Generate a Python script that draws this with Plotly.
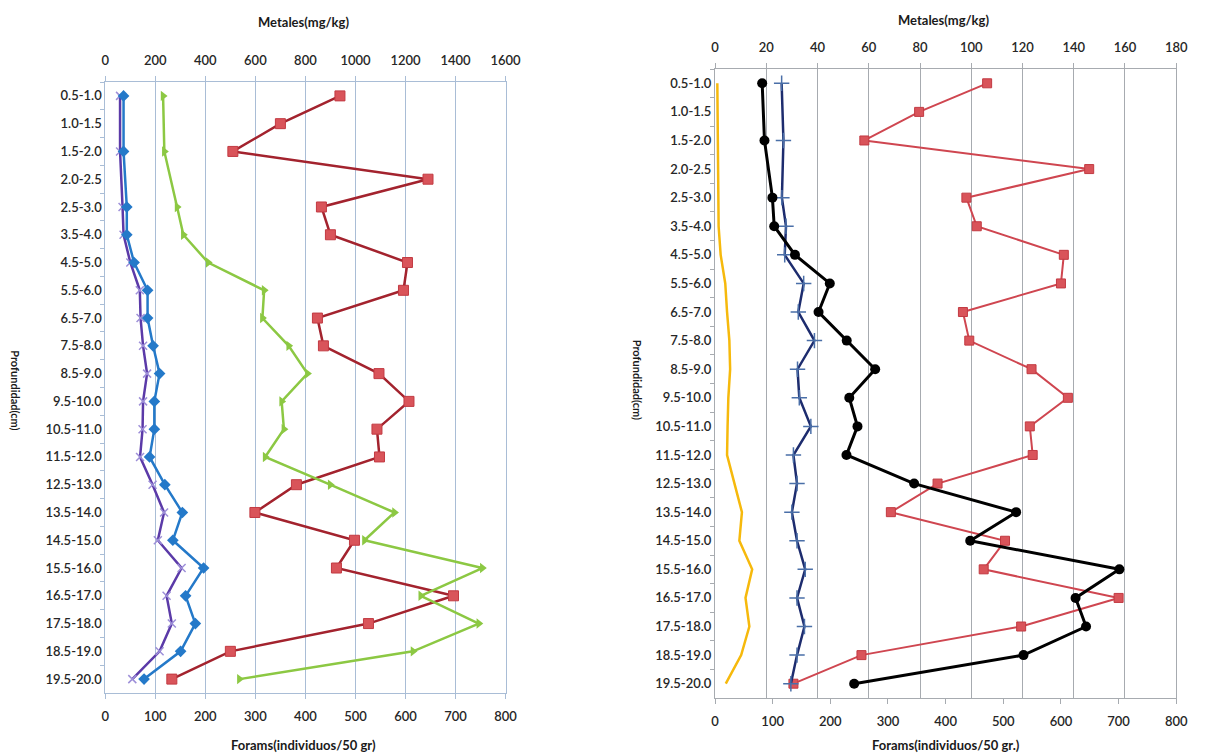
import plotly.graph_objects as go

categories = ["0.5-1.0", "1.0-1.5", "1.5-2.0", "2.0-2.5", "2.5-3.0", "3.5-4.0", "4.5-5.0",
              "5.5-6.0", "6.5-7.0", "7.5-8.0", "8.5-9.0", "9.5-10.0", "10.5-11.0", "11.5-12.0",
              "12.5-13.0", "13.5-14.0", "14.5-15.0", "15.5-16.0", "16.5-17.0", "17.5-18.0",
              "18.5-19.0", "19.5-20.0"]

# Left panel
left_forams = [469, 350, 255, 645, 432, 450, 604, 596, 424, 436, 547, 607, 543, 548,
               382, 299, 498, 462, 696, 526, 250, 133]
left_metal_blue = [73, None, 73, None, 86, 86, 115, 169, 169, 191, 217, 196, 196, 177,
                   238, 308, 270, 393, 321, 360, 301, 155]
left_metal_purple = [59, None, 59, None, 69, 73, 100, 138, 141, 151, 167, 151, 149, 139,
                     189, 235, 210, 305, 245, 266, 217, 108]
left_metal_green = [231, None, 236, None, 287, 312, 411, 635, 628, 733, 808, 705, 714, 639,
                    899, 1156, 1036, 1507, 1261, 1493, 1230, 536]

# Right panel
right_forams = [472, 354, 259, 649, 436, 454, 605, 600, 430, 441, 549, 612, 546, 551,
                386, 305, 503, 466, 700, 531, 254, 136]
right_metal_black = [18.4, None, 19.3, None, 22.4, 23.1, 31.2, 44.8, 40.4, 51.4, 62.5, 52.4,
                     55.6, 51.3, 77.7, 117.5, 99.6, 157.8, 140.7, 144.8, 120.4, 54.3]
right_metal_navy = [26.0, None, 26.7, None, 26.1, 27.7, 27.2, 34.6, 32.5, 38.8, 32.2, 32.9,
                    37.4, 30.6, 32.0, 30.0, 32.0, 35.2, 32.0, 34.9, 32.0, 29.6]
right_metal_orange = [0.9, None, 1.1, None, 1.3, 1.4, 2.2, 4.0, 4.7, 5.6, 5.9, 5.2,
                      4.9, 4.7, 7.6, 10.5, 9.5, 14.5, 11.9, 13.4, 10.2, 4.2]

forams_ticks = [0, 100, 200, 300, 400, 500, 600, 700, 800]
left_metal_ticks = [0, 200, 400, 600, 800, 1000, 1200, 1400, 1600]
right_metal_ticks = [0, 20, 40, 60, 80, 100, 120, 140, 160, 180]

W, H = 1207, 756
FONT = "Lato"
TXT = "#262626"
GRID_L = "#a9bdd6"
GRID_R = "#a7abb0"

fig = go.Figure()

# left traces
fig.add_trace(go.Scatter(x=left_metal_green, y=categories, xaxis="x2", yaxis="y",
                         mode="lines+markers", connectgaps=True,
                         line=dict(color="#8cc843", width=2.5),
                         marker=dict(symbol="triangle-right", size=9, color="#8cc843")))
fig.add_trace(go.Scatter(x=left_metal_purple, y=categories, xaxis="x2", yaxis="y",
                         mode="lines+markers", connectgaps=True,
                         line=dict(color="#5b3aa8", width=2.5),
                         marker=dict(symbol="x-thin", size=8, color="#9d8fd8",
                                     line=dict(color="#9d8fd8", width=1.5))))
fig.add_trace(go.Scatter(x=left_metal_blue, y=categories, xaxis="x2", yaxis="y",
                         mode="lines+markers", connectgaps=True,
                         line=dict(color="#2479c9", width=2.5),
                         marker=dict(symbol="diamond", size=9, color="#2479c9")))
fig.add_trace(go.Scatter(x=left_forams, y=categories, xaxis="x", yaxis="y",
                         mode="lines+markers", connectgaps=True,
                         line=dict(color="#a3232e", width=2.5),
                         marker=dict(symbol="square", size=10, color="#d9545a",
                                     line=dict(color="#c23a42", width=1))))

# right traces
fig.add_trace(go.Scatter(x=right_metal_orange, y=categories, xaxis="x4", yaxis="y2",
                         mode="lines", connectgaps=True,
                         line=dict(color="#f6b90c", width=2.5)))
fig.add_trace(go.Scatter(x=right_metal_navy, y=categories, xaxis="x4", yaxis="y2",
                         mode="lines+markers", connectgaps=True,
                         line=dict(color="#1d2c6e", width=2.5),
                         marker=dict(symbol="cross-thin", size=11, color="#4a6fa8",
                                     line=dict(color="#4a6fa8", width=1.5))))
fig.add_trace(go.Scatter(x=right_forams, y=categories, xaxis="x3", yaxis="y2",
                         mode="lines+markers", connectgaps=True,
                         line=dict(color="#cf4650", width=2),
                         marker=dict(symbol="square", size=9, color="#d9545a",
                                     line=dict(color="#c23a42", width=1))))
fig.add_trace(go.Scatter(x=right_metal_black, y=categories, xaxis="x4", yaxis="y2",
                         mode="lines+markers", connectgaps=True,
                         line=dict(color="#000000", width=3),
                         marker=dict(symbol="circle", size=10, color="#000000")))

tickfont = dict(family=FONT, size=13, color=TXT, weight=600)

def px_dom_x(a, b):
    return [a / W, b / W]

def px_dom_y(top, bottom):
    return [1 - bottom / H, 1 - top / H]

def xax(dom, rng, ticks, side, anchor, overlay, gridcolor, showgrid):
    d = dict(domain=dom, range=rng, tickvals=ticks, side=side, anchor=anchor,
             showgrid=showgrid, gridcolor=gridcolor, gridwidth=1,
             showline=True, linecolor=gridcolor, linewidth=1,
             ticks="outside", ticklen=5, tickcolor=gridcolor, ticklabelstandoff=6,
             tickfont=tickfont, zeroline=False, fixedrange=True)
    if overlay:
        d["overlaying"] = overlay
    return d

def yax(dom, anchor, color):
    return dict(domain=dom, anchor=anchor, type="category",
                categoryorder="array", categoryarray=categories,
                range=[len(categories) - 0.5, -0.5], tickson="boundaries",
                showgrid=False, showline=True, mirror=True, linecolor=color, linewidth=1,
                ticks="outside", ticklen=4, tickcolor=color,
                tickfont=tickfont, zeroline=False, fixedrange=True)

LX = px_dom_x(103, 510)
RX = px_dom_x(723, 1192)
LY = px_dom_y(82, 693)
RY = px_dom_y(69, 698)

fig.update_layout(
    width=W, height=H,
    margin=dict(l=0, r=0, t=0, b=0),
    paper_bgcolor="white", plot_bgcolor="white",
    showlegend=False,
    font=dict(family=FONT, color=TXT),
    xaxis=xax(LX, [0, 800], forams_ticks, "bottom", "y", None, GRID_L, True),
    xaxis2=xax(LX, [0, 1600], left_metal_ticks, "top", "y", "x", GRID_L, False),
    xaxis3=xax(RX, [0, 800], forams_ticks, "bottom", "y2", None, GRID_R, False),
    xaxis4=xax(RX, [0, 180], right_metal_ticks, "top", "y2", "x3", GRID_R, True),
    yaxis=yax(LY, "x", GRID_L),
    yaxis2=yax(RY, "x3", GRID_R),
)

title_font = dict(family=FONT, size=13, color="#1a1a1a")
ann = [
    dict(text="<b>Metales(mg/kg)</b>", x=305, y=22),
    dict(text="<b>Forams(individuos/50 gr)</b>", x=305, y=745),
    dict(text="<b>Metales(mg/kg)</b>", x=955, y=20),
    dict(text="<b>Forams(individuos/50 gr.)</b>", x=958, y=745),
]
for a in ann:
    fig.add_annotation(text=a["text"], x=a["x"] / W, y=1 - a["y"] / H, xref="paper", yref="paper",
                       showarrow=False, font=title_font, xanchor="center", yanchor="middle")
for (x, y) in [(12, 390), (645, 380)]:
    fig.add_annotation(text="<b>Profundidad(cm)</b>", x=x / W, y=1 - y / H, xref="paper", yref="paper",
                       showarrow=False, textangle=90, font=dict(family=FONT, size=11, color="#1a1a1a"),
                       xanchor="center", yanchor="middle")

fig.write_html("out.html", config={"displayModeBar": False},
               post_script="document.body.style.margin='0';document.body.style.overflow='hidden';")
